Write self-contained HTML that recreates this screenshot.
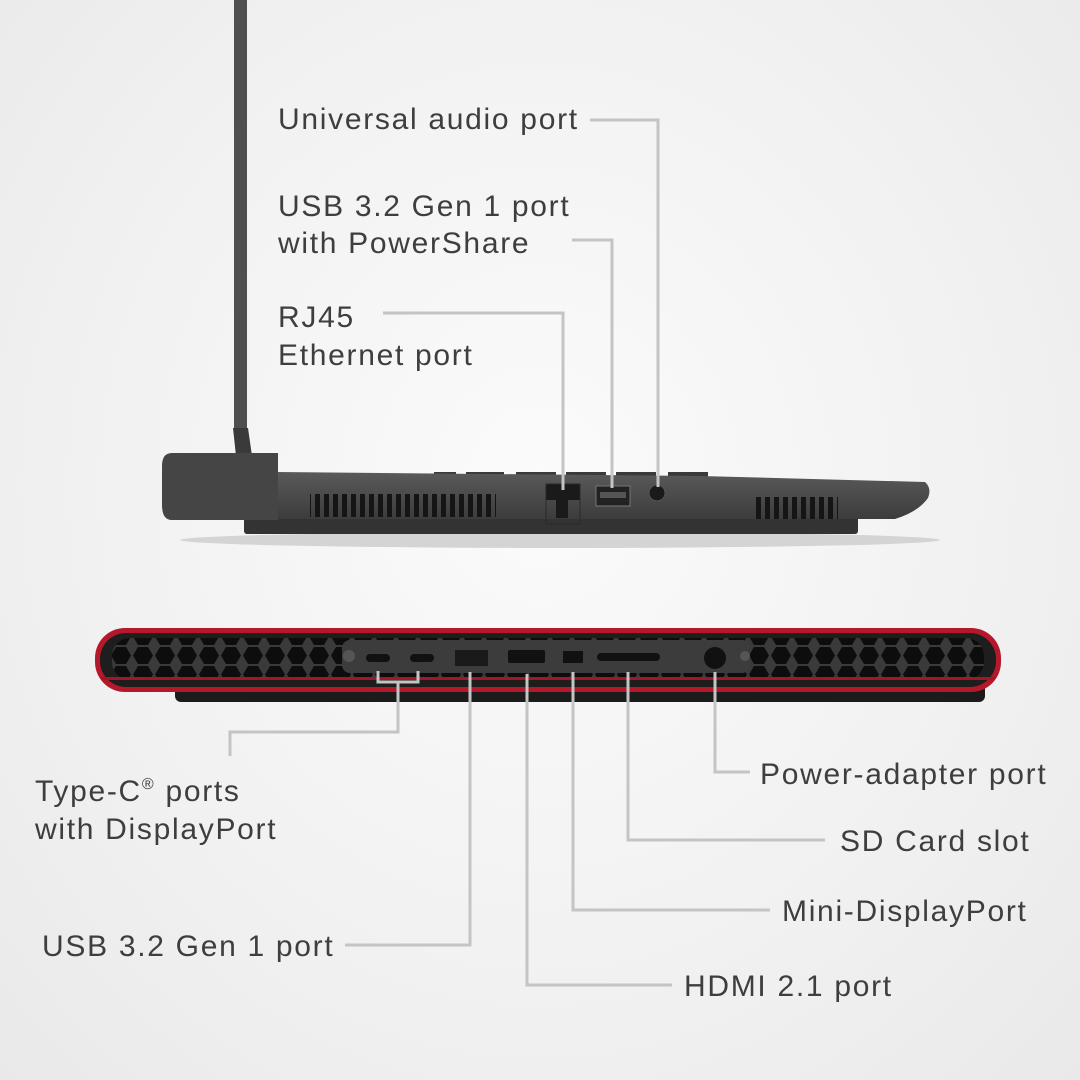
<!DOCTYPE html>
<html><head><meta charset="utf-8"><style>
html,body{margin:0;padding:0;}
body{width:1080px;height:1080px;overflow:hidden;background:radial-gradient(ellipse at 50% 45%,#fbfbfb 0%,#f1f1f1 60%,#e9e9e9 100%);}
svg{display:block}
text{font-family:"Liberation Sans",sans-serif;font-size:30px;fill:#3e3e3e;letter-spacing:1.7px}
</style></head><body>
<svg width="1080" height="1080" viewBox="0 0 1080 1080">
<defs>
<pattern id="hex" width="22" height="19" patternUnits="userSpaceOnUse">
<rect width="22" height="19" fill="#3a3a3a"/>
<polygon points="6,1 16,1 21,9.5 16,18 6,18 1,9.5" fill="#0d0d0d"/>
</pattern>
<linearGradient id="bodyg" x1="0" y1="0" x2="0" y2="1"><stop offset="0" stop-color="#5a5a5a"/><stop offset="1" stop-color="#3c3c3c"/></linearGradient>
<pattern id="vent" width="9" height="10" patternUnits="userSpaceOnUse"><rect x="0" width="5" height="10" fill="#151515"/></pattern>
</defs>
<!-- side laptop -->
<rect x="234" y="0" width="13" height="430" fill="#4f4f4f"/>
<polygon points="233,428 248,428 252,456 236,456" fill="#3a3a3a"/>
<ellipse cx="560" cy="540" rx="380" ry="8" fill="#d4d4d4"/>
<rect x="244" y="516" width="614" height="18" rx="3" fill="#333"/>
<g fill="#3a3a3a"><rect x="434" y="472" width="22" height="8"/><rect x="466" y="472" width="38" height="8"/><rect x="516" y="472" width="40" height="8"/><rect x="566" y="472" width="40" height="8"/><rect x="616" y="472" width="40" height="8"/><rect x="668" y="472" width="40" height="8"/></g>
<path d="M278,472 L700,476 L925,482 Q932,488 928,498 Q918,512 895,519 L278,519 Z" fill="url(#bodyg)"/>
<path d="M172,453 L278,453 L278,520 L172,520 Q162,520 162,505 L162,466 Q162,453 172,453 Z" fill="#454545"/>
<rect x="310" y="494" width="186" height="23" fill="url(#vent)"/>
<rect x="752" y="497" width="86" height="22" fill="url(#vent)"/>
<rect x="546" y="484" width="34" height="16" fill="#1a1a1a"/>
<rect x="546" y="484" width="34" height="40" fill="none" stroke="#2a2a2a" stroke-width="1"/>
<rect x="556" y="500" width="12" height="18" fill="#1a1a1a"/>
<rect x="596" y="486" width="34" height="20" fill="#222" stroke="#777" stroke-width="1"/>
<rect x="600" y="492" width="26" height="6" fill="#555"/>
<circle cx="657" cy="493" r="8" fill="#1a1a1a" stroke="#555"/>
<g stroke="#c4c4c4" stroke-width="3" fill="none">
<polyline points="590,120 658,120 658,487"/>
<polyline points="572,240 612,240 612,488"/>
<polyline points="383,313 563,313 563,490"/>
</g>
<text x="278" y="129">Universal audio port</text>
<text x="278" y="216">USB 3.2 Gen 1 port</text>
<text x="278" y="253">with PowerShare</text>
<text x="278" y="327">RJ45</text>
<text x="278" y="365">Ethernet port</text>
<!-- rear laptop -->
<rect x="175" y="680" width="810" height="22" rx="6" fill="#1b1b1b"/>
<rect x="95" y="628" width="906" height="64" rx="30" fill="#b5182a"/>
<rect x="100" y="633" width="896" height="54" rx="26" fill="#1e1e1e"/>
<rect x="112" y="638" width="872" height="42" rx="18" fill="url(#hex)"/>
<rect x="342" y="640" width="408" height="33" rx="8" fill="#3c3c3c"/>
<rect x="101" y="677" width="894" height="3" fill="#a51526"/>
<circle cx="349" cy="656" r="6" fill="#555"/>
<rect x="366" y="654" width="24" height="8" rx="4" fill="#111"/>
<rect x="410" y="654" width="24" height="8" rx="4" fill="#111"/>
<rect x="455" y="650" width="33" height="16" fill="#1a1a1a"/>
<rect x="508" y="650" width="37" height="13" rx="2" fill="#111"/>
<rect x="563" y="651" width="20" height="12" fill="#111"/>
<rect x="597" y="653" width="63" height="8" rx="4" fill="#111"/>
<circle cx="715" cy="658" r="11" fill="#111"/>
<circle cx="745" cy="656" r="5" fill="#555"/>
<g stroke="#c4c4c4" stroke-width="3" fill="none">
<polyline points="378,671 378,682 418,682 418,671"/>
<polyline points="398,682 398,732 230,732 230,756"/>
<polyline points="470,672 470,945 345,945"/>
<polyline points="527,674 527,985 672,985"/>
<polyline points="573,672 573,910 770,910"/>
<polyline points="628,672 628,840 825,840"/>
<polyline points="715,672 715,772 750,772"/>
</g>
<text x="35" y="801">Type-C<tspan font-size="16" dy="-12">®</tspan><tspan dy="12"> ports</tspan></text>
<text x="35" y="839">with DisplayPort</text>
<text x="42" y="956">USB 3.2 Gen 1 port</text>
<text x="684" y="996">HDMI 2.1 port</text>
<text x="782" y="921">Mini-DisplayPort</text>
<text x="840" y="851">SD Card slot</text>
<text x="760" y="784">Power-adapter port</text>
</svg>
</body></html>
